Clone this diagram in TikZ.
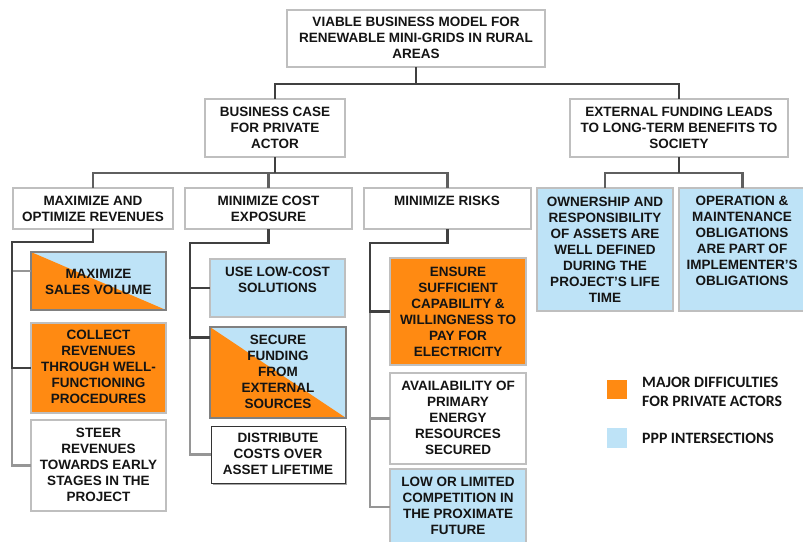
\documentclass[tikz,border=0pt]{standalone}
\usepackage{fontspec}
\setmainfont{Liberation Sans}
\newfontfamily\legfont{Carlito}
\usetikzlibrary{shadows}
\definecolor{orng}{RGB}{255,138,18}
\definecolor{lblue}{RGB}{190,227,247}
\definecolor{bord}{RGB}{191,191,191}
\definecolor{cdark}{RGB}{64,64,64}
\definecolor{cmid}{RGB}{95,95,95}
\definecolor{clight}{RGB}{150,150,150}
\definecolor{txtc}{RGB}{20,20,20}
\definecolor{splitbord}{RGB}{128,128,128}
\tikzset{
  box/.style={draw=bord, line width=1.2pt, fill=white, inner sep=0pt, outer sep=0pt},
  bluebox/.style={box, fill=lblue},
  orbox/.style={box, fill=orng},
  splitbox/.style={box, fill=lblue, draw=splitbord, line width=2.5pt,
    path picture={\fill[orng] (path picture bounding box.north west) -- (path picture bounding box.south west) -- (path picture bounding box.south east) -- cycle;}},
  distbox/.style={box, draw=black!80, line width=1pt, drop shadow={shadow xshift=2pt, shadow yshift=-2pt, fill=gray!70, opacity=1}},
  legsq/.style={draw=none, inner sep=0pt, outer sep=0pt},
  txt/.style={font=\fontsize{13.5}{16}\selectfont\bfseries, align=center, text=txtc, inner sep=0pt},
  legtxt/.style={font=\legfont\fontsize{15.8}{19}\selectfont\bfseries, align=left, text=txtc, inner sep=0pt, anchor=west},
  conn/.style={line width=2.2pt},
}
\newcommand\bx[6]{\node[#6, minimum width={(#4-#2)*1pt}, minimum height={(#5-#3)*1pt}] (#1) at ({(#2+#4)/2},{(#3+#5)/2}) {};}
\newcommand\tx[4]{\node[txt] (#1) at (#2,#3) {#4};}
\begin{document}
\begin{tikzpicture}[x=1pt,y=-1pt]
\useasboundingbox (0,0) rectangle (803,541);
% ---------- boxes ----------
\bx{top}{287}{10}{545}{67}{box}
\bx{bcase}{205}{99}{345}{157}{box}
\bx{ext}{570}{99}{788}{157}{box}
\bx{maxr}{13}{188}{173}{229}{box}
\bx{minc}{185}{188}{352}{229}{box}
\bx{minr}{364}{188}{531}{229}{box}
\bx{own}{537}{188}{673}{311}{bluebox}
\bx{oper}{679}{188}{806}{311}{bluebox}
\bx{ms}{31}{252}{166}{310}{splitbox}
\bx{col}{31}{323}{166}{413}{orbox}
\bx{steer}{31}{420}{166}{511}{box}
\bx{ulc}{210}{259}{345}{317}{bluebox}
\bx{sec}{210}{327}{346}{418}{splitbox}
\bx{dist}{211}{426}{345}{483}{distbox}
\bx{ens}{390}{258}{526}{365}{orbox}
\bx{avail}{390}{373}{526}{464}{box}
\bx{low}{390}{469}{526}{545}{bluebox}
\bx{lg1}{607}{380}{627}{399}{legsq, fill=orng}
\bx{lg2}{607}{428}{627}{448}{legsq, fill=lblue}
% ---------- connectors ----------
\draw[cdark,conn] (top.south) -- ++(0,17) -| (bcase.north);
\draw[cdark,conn] (top.south) -- ++(0,17) -| (ext.north);
\draw[cmid,conn] (bcase.south) -- ++(0,16) -| (maxr.north);
\draw[cmid,conn] (bcase.south) -- ++(0,16) -| (minc.north);
\draw[cmid,conn] (bcase.south) -- ++(0,16) -| (minr.north);
\draw[cdark,conn] (bcase.south) -- ++(0,16);
\draw[cmid,conn] (ext.south) -- ++(0,16) -| (own.north);
\draw[cmid,conn] (ext.south) -- ++(0,16) -| (oper.north);
\draw[cdark,conn] (ext.south) -- ++(0,16);
\coordinate (t1) at (12,242);
\coordinate (t2) at (190,243);
\coordinate (t3) at (370,243);
\draw[clight,conn] (maxr.south) |- (t1) |- ([yshift=10pt]ms.west);
\draw[clight,conn] (maxr.south) |- (t1) |- (steer.west);
\draw[cdark,conn] (maxr.south) |- (t1) |- (col.west);
\draw[clight,conn] (minc.south) |- (t2) |- (dist.west);
\draw[cdark,conn] (minc.south) |- (t2) |- ([yshift=35pt]sec.west);
\draw[cdark,conn] (minc.south) |- (t2) |- (ulc.west);
\draw[clight,conn] (minr.south) |- (t3) |- (low.west);
\draw[clight,conn] (minr.south) |- (t3) |- (avail.west);
\draw[cdark,conn] (minr.south) |- (t3) |- (ens.west);
% ---------- texts ----------
\tx{topt}{416}{38}{VIABLE BUSINESS MODEL FOR\\RENEWABLE MINI-GRIDS IN RURAL\\AREAS}
\tx{bcaset}{275}{127.5}{BUSINESS CASE\\FOR PRIVATE\\ACTOR}
\tx{extt}{679}{127.5}{EXTERNAL FUNDING LEADS\\TO LONG-TERM BENEFITS TO\\SOCIETY}
\tx{maxrt}{93}{209}{MAXIMIZE AND\\OPTIMIZE REVENUES}
\tx{minct}{268.5}{209}{MINIMIZE COST\\EXPOSURE}
\tx{minrt}{447}{201}{MINIMIZE RISKS}
\tx{ownt}{605}{249.5}{OWNERSHIP AND\\RESPONSIBILITY\\OF ASSETS ARE\\WELL DEFINED\\DURING THE\\PROJECT’S LIFE\\TIME}
\tx{opert}{742}{241}{OPERATION \&\\MAINTENANCE\\OBLIGATIONS\\ARE PART OF\\IMPLEMENTER’S\\OBLIGATIONS}
\tx{mst}{98.5}{282}{MAXIMIZE\\SALES VOLUME}
\tx{colt}{98.5}{367}{COLLECT\\REVENUES\\THROUGH WELL-\\FUNCTIONING\\PROCEDURES}
\tx{steert}{98.5}{465}{STEER\\REVENUES\\TOWARDS EARLY\\STAGES IN THE\\PROJECT}
\tx{ulct}{277.5}{280}{USE LOW-COST\\SOLUTIONS}
\tx{sect}{278}{372}{SECURE\\FUNDING\\FROM\\EXTERNAL\\SOURCES}
\tx{distt}{278}{454}{DISTRIBUTE\\COSTS OVER\\ASSET LIFETIME}
\tx{enst}{458}{312}{ENSURE\\SUFFICIENT\\CAPABILITY \&\\WILLINGNESS TO\\PAY FOR\\ELECTRICITY}
\tx{availt}{458}{418}{AVAILABILITY OF\\PRIMARY\\ENERGY\\RESOURCES\\SECURED}
\tx{lowt}{458}{505.5}{LOW OR LIMITED\\COMPETITION IN\\THE PROXIMATE\\FUTURE}
\node[legtxt] (lg1t) at (642,391.5) {MAJOR DIFFICULTIES\\FOR PRIVATE ACTORS};
\node[legtxt] (lg2t) at (642,438) {PPP INTERSECTIONS};
\end{tikzpicture}
\end{document}
